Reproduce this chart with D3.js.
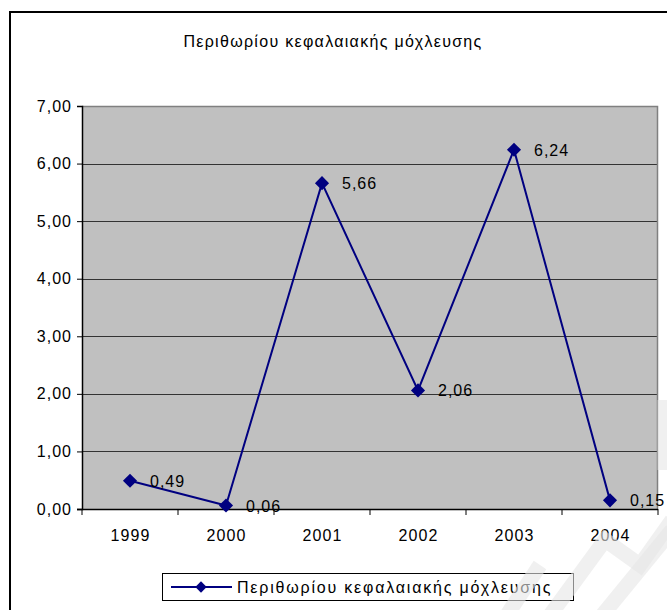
<!DOCTYPE html>
<html>
<head>
<meta charset="utf-8">
<script src="https://cdn.jsdelivr.net/npm/d3@7"></script>
<style>
  html, body { margin: 0; padding: 0; background: #fff; }
  svg { display: block; font-family: "Liberation Sans", Arial, sans-serif; }
</style>
</head>
<body>
<svg id="chart" width="667" height="610"></svg>
<script>
// Chart data
const years = ["1999", "2000", "2001", "2002", "2003", "2004"];
const margins = [0.49, 0.06, 5.66, 2.06, 6.24, 0.15];
const yTicks = [0, 1, 2, 3, 4, 5, 6, 7];
const titleText = "Περιθωρίου κεφαλαιακής μόχλευσης";
const seriesName = "Περιθωρίου κεφαλαιακής μόχλευσης";

const svg = d3.select("#chart");
const W = 667, H = 610;
const plot = { left: 82, right: 658, top: 106, bottom: 509 };

const fmt = v => d3.format(".2f")(v).replace(".", ",");

// Outer chart frame
svg.append("rect")
  .attr("x", 10).attr("y", 12)
  .attr("width", W + 10).attr("height", H + 10)
  .attr("fill", "#fff").attr("stroke", "#000").attr("stroke-width", 2);

// Title
svg.append("text")
  .attr("x", 333).attr("y", 47)
  .attr("text-anchor", "middle")
  .attr("font-size", 16)
  .attr("letter-spacing", 1.3)
  .attr("fill", "#000")
  .text(titleText);

const x = d3.scaleBand().domain(years).range([plot.left, plot.right]);
const y = d3.scaleLinear().domain([0, 7]).range([plot.bottom, plot.top]);

// Plot area background
svg.append("rect")
  .attr("x", plot.left).attr("y", plot.top)
  .attr("width", plot.right - plot.left).attr("height", plot.bottom - plot.top)
  .attr("fill", "#c0c0c0");

// Horizontal gridlines
svg.append("g")
  .selectAll("line")
  .data(yTicks.filter(t => t > 0 && t < 7))
  .join("line")
  .attr("x1", plot.left).attr("x2", plot.right)
  .attr("y1", d => Math.round(y(d)) + 0.5).attr("y2", d => Math.round(y(d)) + 0.5)
  .attr("stroke", "#333").attr("stroke-width", 1);

// Top and right edges of plot area
svg.append("path")
  .attr("d", `M${plot.left},${plot.top + 0.5}H${plot.right - 0.5}V${plot.bottom}`)
  .attr("fill", "none").attr("stroke", "#808080").attr("stroke-width", 1.5);

// Y axis
const yAxis = d3.axisLeft(y).tickValues(yTicks).tickFormat(fmt).tickSize(5).tickPadding(5);
const gy = svg.append("g").attr("transform", `translate(${plot.left},0)`).call(yAxis);
gy.select(".domain").attr("stroke", "#000").attr("stroke-width", 1.5);
gy.selectAll(".tick line").attr("stroke", "#000");
gy.selectAll(".tick text").attr("font-size", 16).attr("fill", "#000")
  .attr("letter-spacing", 1)
  .attr("font-family", "Liberation Sans, Arial, sans-serif");

// X axis with ticks between categories
const gx = svg.append("g").attr("transform", `translate(0,${plot.bottom})`);
gx.append("line")
  .attr("x1", plot.left - 5).attr("x2", plot.right)
  .attr("y1", 0.5).attr("y2", 0.5)
  .attr("stroke", "#000").attr("stroke-width", 1.5);
const boundaries = years.map(d => x(d)).concat([plot.right]);
gx.selectAll("line.tk")
  .data(boundaries)
  .join("line")
  .attr("class", "tk")
  .attr("x1", d => d).attr("x2", d => d)
  .attr("y1", 0).attr("y2", 6)
  .attr("stroke", "#000");
gx.selectAll("text")
  .data(years)
  .join("text")
  .attr("x", d => x(d) + x.bandwidth() / 2 + 0.5)
  .attr("y", 32)
  .attr("text-anchor", "middle")
  .attr("font-size", 16)
  .attr("letter-spacing", 1.1)
  .attr("fill", "#000")
  .text(d => d);

// Series line
const pts = years.map((yr, i) => ({ yr, v: margins[i] }));
const cx = d => x(d.yr) + x.bandwidth() / 2;
svg.append("path")
  .datum(pts)
  .attr("d", d3.line().x(cx).y(d => y(d.v)))
  .attr("fill", "none")
  .attr("stroke", "#000080")
  .attr("stroke-width", 2);

// Diamond markers
svg.append("g")
  .selectAll("path")
  .data(pts)
  .join("path")
  .attr("transform", d => `translate(${cx(d)},${y(d.v)}) rotate(45)`)
  .attr("d", d3.symbol().type(d3.symbolSquare).size(100))
  .attr("fill", "#000080");

// Value labels
svg.append("g")
  .selectAll("text")
  .data(pts)
  .join("text")
  .attr("x", d => cx(d) + 20)
  .attr("y", d => y(d.v) + 6)
  .attr("font-size", 16)
  .attr("letter-spacing", 1)
  .attr("fill", "#000")
  .text(d => fmt(d.v));

// Legend
const lg = svg.append("g");
lg.append("rect")
  .attr("x", 162.5).attr("y", 573.5)
  .attr("width", 411).attr("height", 27)
  .attr("fill", "#fff").attr("stroke", "#000").attr("stroke-width", 1);
lg.append("line")
  .attr("x1", 171).attr("x2", 232).attr("y1", 587).attr("y2", 587)
  .attr("stroke", "#000080").attr("stroke-width", 2);
lg.append("path")
  .attr("transform", "translate(201,587) rotate(45)")
  .attr("d", d3.symbol().type(d3.symbolSquare).size(64))
  .attr("fill", "#000080");
lg.append("text")
  .attr("x", 237).attr("y", 593)
  .attr("font-size", 16)
  .attr("letter-spacing", 1.8)
  .attr("fill", "#000")
  .text(seriesName);

// Faint diagonal stamp in the lower right corner
const stamp = svg.append("g").attr("fill", "none")
  .attr("stroke", "#e6e6e6").attr("stroke-opacity", 0.6).attr("stroke-width", 15);
stamp.append("path").attr("d", "M548,618L605,540L640,565L672,520");
stamp.append("path").attr("d", "M600,618L672,530");
stamp.append("path").attr("d", "M505,618L540,565");
stamp.append("path").attr("d", "M665,400V470");
</script>
</body>
</html>
